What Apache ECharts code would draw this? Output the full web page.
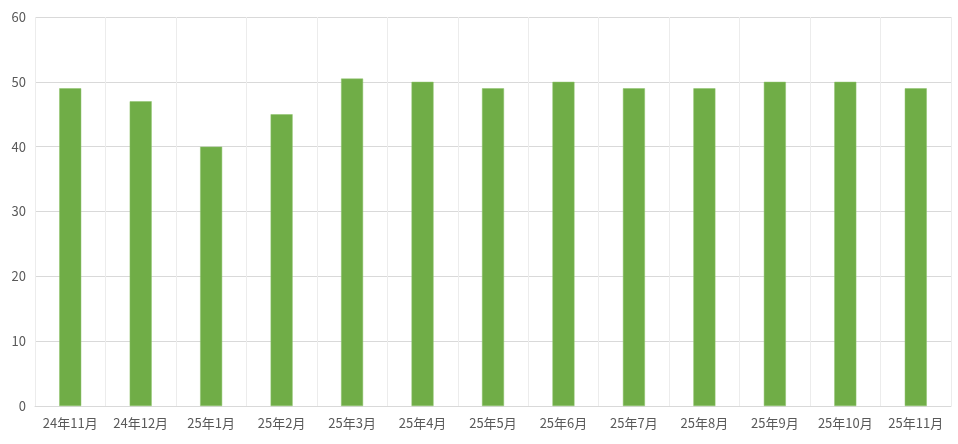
<!DOCTYPE html>
<html>
<head>
<meta charset="utf-8">
<script src="https://cdn.jsdelivr.net/npm/echarts@6/dist/echarts.min.js"></script>
<style>
html,body{margin:0;padding:0;background:#fff;}
#chart{width:958px;height:444px;}
</style>
</head>
<body>
<div id="chart"></div>
<script>
const categories = ['24年11月','24年12月','25年1月','25年2月','25年3月','25年4月','25年5月','25年6月','25年7月','25年8月','25年9月','25年10月','25年11月'];
const values = [49, 47, 40, 45, 50.5, 50, 49, 50, 49, 49, 50, 50, 49];
const yTicks = {min: 0, max: 60, interval: 10};

const chart = echarts.init(document.getElementById('chart'));
chart.setOption({
  animation: false,
  grid: {left: 35, right: 7, top: 17, bottom: 38, containLabel: false},
  xAxis: {
    type: 'category',
    data: categories,
    axisLine: {show: true, lineStyle: {color: '#d9d9d9', width: 1}},
    axisTick: {show: false},
    splitLine: {show: true, lineStyle: {color: '#ececec', width: 1}},
    axisLabel: {color: '#595959', fontSize: 13, fontFamily: 'Noto Sans CJK SC', margin: 11, interval: 0}
  },
  yAxis: {
    type: 'value',
    min: yTicks.min, max: yTicks.max, interval: yTicks.interval,
    axisLine: {show: false},
    axisTick: {show: false},
    splitLine: {show: true, lineStyle: {color: '#d9d9d9', width: 1}},
    axisLabel: {color: '#595959', fontSize: 13, fontFamily: 'Noto Sans CJK SC', margin: 9}
  },
  series: [{
    type: 'bar',
    data: values,
    barWidth: 22,
    itemStyle: {color: '#70AD47', borderColor: '#8cc26b', borderWidth: 0.5}
  }]
});
</script>
</body>
</html>
